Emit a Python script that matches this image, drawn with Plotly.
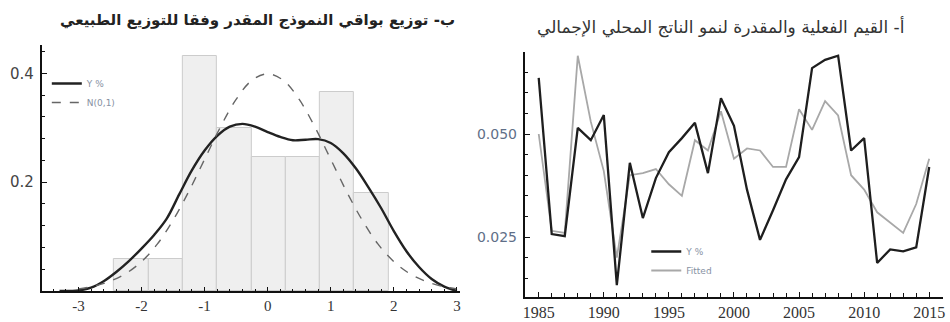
import plotly.graph_objects as go

# ---------------- Left panel data: residual distribution ----------------
bin_centers = [-2.16, -1.615, -1.07, -0.53, 0.015, 0.56, 1.10, 1.645]
bin_density = [0.059, 0.059, 0.431, 0.299, 0.246, 0.246, 0.365, 0.180]
bin_width = 0.543

kde_x = [-3.3, -3.0, -2.8, -2.6, -2.4, -2.2, -2.0, -1.8, -1.6, -1.4, -1.2, -1.0, -0.8, -0.6,
         -0.4, -0.2, 0.0, 0.2, 0.4, 0.6, 0.8, 1.0, 1.2, 1.4, 1.6, 1.8, 2.0, 2.2, 2.4,
         2.6, 2.8, 3.0]
kde_y = [0.0, 0.001, 0.006, 0.018, 0.035, 0.055, 0.078, 0.103, 0.133, 0.178, 0.222, 0.258,
         0.285, 0.302, 0.307, 0.302, 0.292, 0.283, 0.277, 0.278, 0.279, 0.272, 0.253,
         0.225, 0.190, 0.152, 0.110, 0.073, 0.044, 0.022, 0.008, 0.0]

norm_x = [-3.0, -2.75, -2.5, -2.25, -2.0, -1.75, -1.5, -1.25, -1.0, -0.75, -0.5, -0.25, 0.0,
          0.25, 0.5, 0.75, 1.0, 1.25, 1.5, 1.75, 2.0, 2.25, 2.5, 2.75, 3.0]
norm_y = [0.004, 0.009, 0.018, 0.032, 0.054, 0.086, 0.130, 0.183, 0.242, 0.301, 0.352, 0.387,
          0.399, 0.387, 0.352, 0.301, 0.242, 0.183, 0.130, 0.086, 0.054, 0.032, 0.018,
          0.009, 0.004]

left_xticks = [-3, -2, -1, 0, 1, 2, 3]
left_yticks = [0.2, 0.4]

# ---------------- Right panel data: actual vs fitted GDP growth ----------------
years = list(range(1985, 2016))
y_actual = [0.0636, 0.0257, 0.0252, 0.0515, 0.0485, 0.0546, 0.0133, 0.0430, 0.0296, 0.0393,
            0.0456, 0.0490, 0.0527, 0.0405, 0.0587, 0.0520, 0.0365, 0.0243, 0.0315, 0.0390,
            0.0444, 0.0660, 0.0680, 0.0690, 0.0460, 0.0490, 0.0187, 0.0220, 0.0215, 0.0225,
            0.0420]
y_fitted = [0.0500, 0.0265, 0.0260, 0.0690, 0.0530, 0.0410, 0.0200, 0.0400, 0.0405, 0.0415,
            0.0378, 0.0350, 0.0485, 0.0460, 0.0555, 0.0440, 0.0465, 0.0460, 0.0420, 0.0420,
            0.0560, 0.0510, 0.0580, 0.0545, 0.0400, 0.0365, 0.0310, 0.0285, 0.0260, 0.0330,
            0.0440]

right_xticks = [1985, 1990, 1995, 2000, 2005, 2010, 2015]
right_yticks = [0.025, 0.050]

title_left = "ب- توزيع بواقي النموذج المقدر وفقا للتوزيع الطبيعي"
title_right = "أ- القيم الفعلية والمقدرة لنمو الناتج المحلي الإجمالي"

W, H = 950, 322

def px_x(p):
    return p / W

def px_y(p):
    return 1 - p / H

fig = go.Figure()

fig.add_trace(go.Bar(
    x=bin_centers, y=bin_density, width=[bin_width] * len(bin_centers),
    marker=dict(color="#efefef", line=dict(color="#cccccc", width=1)),
    showlegend=False, xaxis="x", yaxis="y", hoverinfo="skip"))
fig.add_trace(go.Scatter(
    x=kde_x, y=kde_y, mode="lines", name="Y %", line=dict(color="#222222", width=2.4, shape="spline"),
    xaxis="x", yaxis="y", legend="legend"))
fig.add_trace(go.Scatter(
    x=norm_x, y=norm_y, mode="lines", name="N(0,1)",
    line=dict(color="#666666", width=1.4, dash="dash", shape="spline"),
    xaxis="x", yaxis="y", legend="legend"))

fig.add_trace(go.Scatter(
    x=years, y=y_fitted, mode="lines", name="Fitted", line=dict(color="#a8a8a8", width=1.8),
    xaxis="x2", yaxis="y2", legend="legend2"))
fig.add_trace(go.Scatter(
    x=years, y=y_actual, mode="lines", name="Y %", line=dict(color="#1e1e1e", width=2.3),
    xaxis="x2", yaxis="y2", legend="legend2"))

axis_common = dict(showgrid=False, zeroline=False, showline=True, linecolor="#111111",
                   ticks="inside", tickcolor="#111111", mirror=False)

fig.update_layout(
    width=W, height=H, margin=dict(l=0, r=0, t=0, b=0),
    paper_bgcolor="white", plot_bgcolor="white", bargap=0,
    xaxis=dict(**axis_common, domain=[px_x(40), px_x(460)], range=[-3.58, 3.05],
               tickvals=left_xticks, ticktext=[str(v) for v in left_xticks], ticklen=4, linewidth=1.5,
               minor=dict(dtick=0.2, tick0=0, ticks="inside", ticklen=2, tickcolor="#111111"),
               tickfont=dict(family="Liberation Serif", size=15, color="#333333"),
               anchor="y"),
    yaxis=dict(**axis_common, domain=[px_y(291), px_y(45)], range=[0, 0.452],
               tickvals=left_yticks, ticktext=["0.2", "0.4"], ticklen=5, linewidth=2,
               minor=dict(dtick=0.04, tick0=0, ticks="inside", ticklen=3, tickcolor="#111111"),
               tickfont=dict(family="DejaVu Sans", size=15, color="#444444"),
               ticklabelstandoff=3, anchor="x"),
    xaxis2=dict(**axis_common, domain=[px_x(525), px_x(945)], range=[1983.93, 2016.06],
                tickvals=right_xticks, ticktext=[str(v) for v in right_xticks], ticklen=5, linewidth=1.5,
                minor=dict(dtick=1, tick0=1985, ticks="inside", ticklen=4, tickcolor="#111111"),
                tickfont=dict(family="Liberation Serif", size=16, color="#333333"),
                anchor="y2"),
    yaxis2=dict(**axis_common, domain=[px_y(297), px_y(52)], range=[0.01044, 0.0699],
                tickvals=right_yticks, ticktext=["0.025", "0.050"], ticklen=5, linewidth=2,
                minor=dict(dtick=0.005, tick0=0, ticks="inside", ticklen=3, tickcolor="#111111"),
                tickfont=dict(family="DejaVu Sans", size=14, color="#5f6f88"),
                ticklabelstandoff=3, anchor="x2"),
    legend=dict(x=px_x(45), y=px_y(69), xanchor="left", yanchor="top",
                bgcolor="rgba(0,0,0,0)", borderwidth=0, tracegroupgap=0,
                font=dict(family="DejaVu Sans", size=9, color="#8791a3")),
    legend2=dict(x=px_x(647), y=px_y(237), xanchor="left", yanchor="top",
                 bgcolor="rgba(0,0,0,0)", borderwidth=0, tracegroupgap=0, traceorder="reversed",
                 font=dict(family="DejaVu Sans", size=9, color="#8791a3")),
    annotations=[
        dict(text="<b>" + title_left + "</b>", x=px_x(257), y=px_y(20), xref="paper", yref="paper",
             showarrow=False, xanchor="center", yanchor="middle",
             font=dict(family="DejaVu Sans", size=15, color="#222222")),
        dict(text=title_right, x=px_x(722), y=px_y(27), xref="paper", yref="paper",
             showarrow=False, xanchor="center", yanchor="middle",
             font=dict(family="DejaVu Sans", size=17, color="#333333")),
    ],
)

fig.write_html("out.html")
